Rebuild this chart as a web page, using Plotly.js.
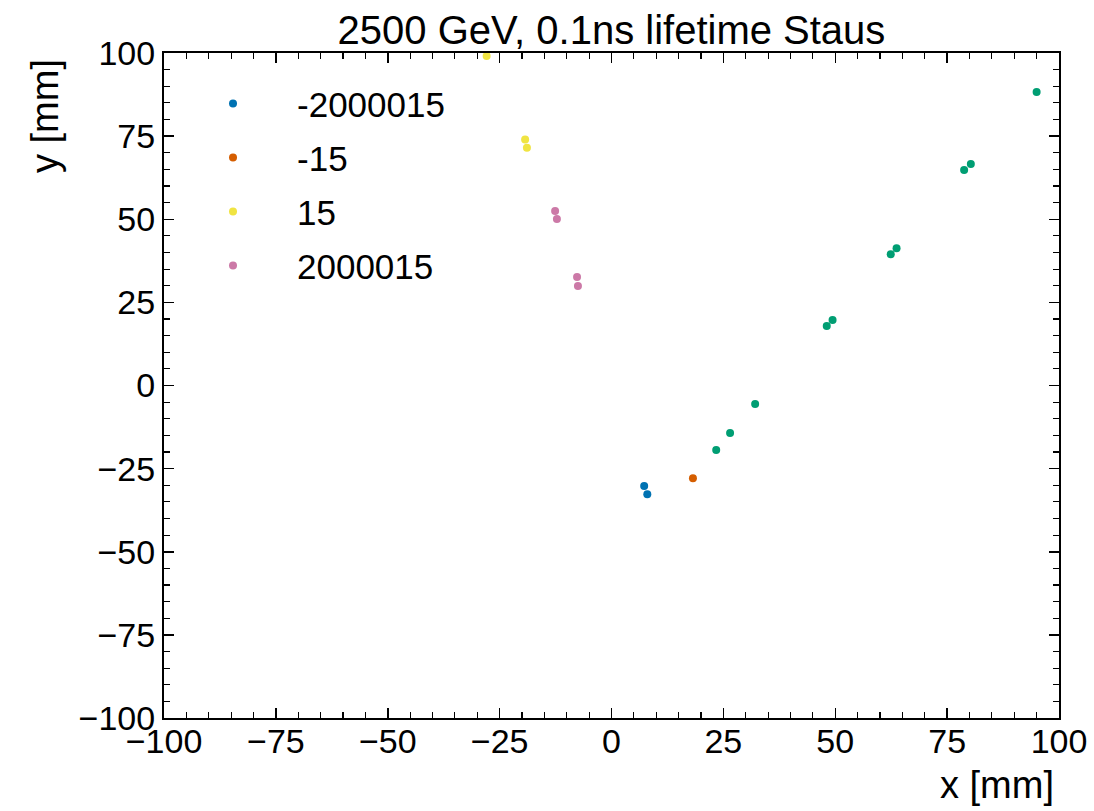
<!DOCTYPE html>
<html>
<head>
<meta charset="utf-8">
<script src="https://cdn.plot.ly/plotly-3.0.1.min.js"></script>
<style>html,body{margin:0;padding:0;background:#fff;}#chart{width:1094px;height:811px;}</style>
</head>
<body>
<div id="chart"></div>
<script>
// Data (x, y in mm)
const seriesNames = ["-2000015", "-15", "15", "2000015"];
const x_m2000015 = [7.3, 8.0];
const y_m2000015 = [-30.2, -32.7];
const x_m15 = [18.2];
const y_m15 = [-27.9];
const x_15 = [-27.9, -19.3, -18.9];
const y_15 = [99.1, 74.0, 71.5];
const x_2000015 = [-12.6, -12.2, -7.7, -7.5];
const y_2000015 = [52.5, 50.1, 32.6, 29.9];
const x_other = [23.4, 26.5, 32.1, 48.1, 49.4, 62.4, 63.7, 78.8, 80.3, 95.0];
const y_other = [-19.4, -14.3, -5.6, 17.9, 19.7, 39.5, 41.3, 64.8, 66.6, 88.3];
const tickVals = [-100, -75, -50, -25, 0, 25, 50, 75, 100];

const colors = ["#0072B2", "#D55E00", "#F0E442", "#CC79A7", "#009E73"];
const FONT = "Liberation Sans, Arial, Helvetica, sans-serif";

function tr(x, y, name, color, show, grp) {
  return {type: "scatter", mode: "markers", x: x, y: y, name: name,
    legendgroup: grp, showlegend: show,
    marker: {color: color, size: 8, line: {width: 0}}, hoverinfo: "x+y+name"};
}
const data = [
  tr(x_m2000015, y_m2000015, seriesNames[0], colors[0], true, "g1"),
  tr(x_m15, y_m15, seriesNames[1], colors[1], true, "g2"),
  tr(x_15, y_15, seriesNames[2], colors[2], true, "g3"),
  tr(x_2000015, y_2000015, seriesNames[3], colors[3], true, "g4"),
  tr(x_other, y_other, "other", colors[4], false, "g5"),
];

const axisCommon = {
  range: [-100, 100], tickvals: tickVals, ticks: "inside", ticklen: 10, tickwidth: 1.5,
  tickcolor: "#000", showline: true, linecolor: "#000", linewidth: 2, mirror: "ticks",
  showgrid: false, zeroline: false, tickfont: {family: FONT, size: 34, color: "#000"},
  minor: {dtick: 5, ticks: "inside", ticklen: 6, tickwidth: 1.2, tickcolor: "#000", showgrid: false},
  fixedrange: true
};

const layout = {
  width: 1094, height: 811,
  margin: {l: 164, r: 35, t: 53, b: 93, pad: 0},
  paper_bgcolor: "#fff", plot_bgcolor: "#fff",
  font: {family: FONT, color: "#000"},
  title: {text: "2500 GeV, 0.1ns lifetime Staus", font: {family: FONT, size: 40, color: "#000"},
    x: 0.5, xref: "paper", y: 1 - 30/811, yref: "container", yanchor: "middle"},
  xaxis: Object.assign({}, axisCommon, {ticklabelstandoff: -8}),
  yaxis: Object.assign({}, axisCommon),
  showlegend: true,
  legend: {x: 0.0056, y: 0.968, xanchor: "left", yanchor: "top", bgcolor: "rgba(0,0,0,0)",
    font: {family: FONT, size: 35, color: "#000"}, itemwidth: 118, tracegroupgap: 5.5,
    traceorder: "grouped"},
  annotations: [
    {text: "x [mm]", xref: "paper", yref: "paper", x: 1, y: (718-785)/665, xanchor: "right",
     yanchor: "middle", showarrow: false, font: {family: FONT, size: 38, color: "#000"}, xshift: -3},
    {text: "y [mm]", xref: "paper", yref: "paper", x: (45-164)/895, y: 1, xanchor: "center",
     yanchor: "top", textangle: -90, showarrow: false, font: {family: FONT, size: 38, color: "#000"}, yshift: -4}
  ]
};

Plotly.newPlot("chart", data, layout, {displayModeBar: false, staticPlot: true});
</script>
</body>
</html>
